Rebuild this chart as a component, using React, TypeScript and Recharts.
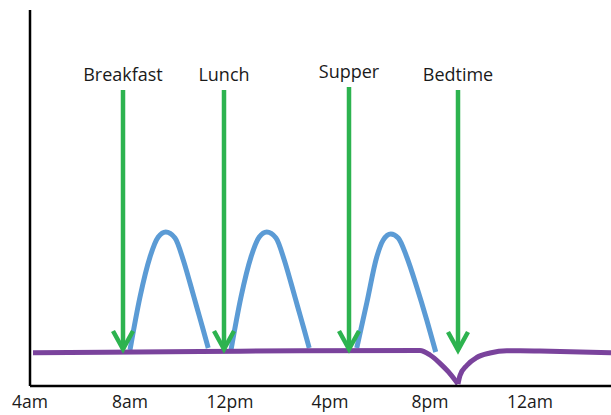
import React from 'react';
import { ComposedChart, Line, XAxis, YAxis } from 'recharts';

// x in hours since midnight (4 = 4am, 24 = 12am), y in arbitrary insulin level
const tickHours = [4, 8, 12, 16, 20, 24];
const tickLabels = ['4am', '8am', '12pm', '4pm', '8pm', '12am'];

// rapid acting doses (blue bumps)
const breakfastHours = [8.0, 8.4, 8.8, 9.13, 9.43, 9.8, 10.13, 10.4, 10.67, 10.93, 11.13];
const breakfastLevels = [36, 89, 129, 149, 154, 148, 126, 103, 79, 56, 38];
const lunchHours = [12.04, 12.44, 12.84, 13.17, 13.47, 13.84, 14.17, 14.44, 14.71, 14.97, 15.17];
const lunchLevels = [36, 89, 129, 149, 154, 148, 126, 103, 79, 56, 38];
const supperHours = [17.07, 17.47, 17.87, 18.13, 18.43, 18.73, 19.07, 19.47, 19.87, 20.23];
const supperLevels = [38, 83, 129, 146, 152, 148, 129, 99, 66, 34];

// long acting background (purple), split at the bedtime dip
const basalBeforeHours = [4.12, 10.8, 14.8, 19.6, 20.0, 20.4, 20.73, 21.0, 21.12];
const basalBeforeLevels = [33.3, 34.5, 35.3, 35.5, 31, 22.7, 14.3, 6, 2];
const basalAfterHours = [21.12, 21.2, 21.47, 21.87, 22.4, 23.07, 23.6, 24.4, 27.24];
const basalAfterLevels = [2, 10.5, 20.5, 28.5, 33, 35.3, 35.3, 35, 33.3];

// injection arrows
const arrowLabels = ['Breakfast', 'Lunch', 'Supper', 'Bedtime'];
const arrowHours = [7.72, 11.76, 16.76, 21.12];
const arrowTops = [296, 296, 299, 296];
const arrowTips = [37, 37, 37, 36];

const title = 'Correction - correct before meals and at bedtime';

const BLUE = '#5B9BD5';
const PURPLE = '#7A439C';
const GREEN = '#2DB34F';
const FONT = '"Open Sans", sans-serif';

const toPoints = (hours: number[], levels: number[]) =>
  hours.map((h, i) => ({ h, v: levels[i] }));

const arrows = arrowLabels.map((label, i) => ({
  label,
  data: [
    { h: arrowHours[i], v: arrowTops[i], label },
    { h: arrowHours[i], v: arrowTips[i], label },
  ],
}));

const ArrowEnd = (props: any) => {
  const { cx, cy, index, payload } = props;
  if (cx == null || cy == null) return <g key={`e-${index}`} />;
  if (index === 0) {
    return (
      <text
        key={`t-${payload.label}`}
        x={cx}
        y={cy - 9}
        textAnchor="middle"
        fontFamily={FONT}
        fontSize={18}
        fill="#1a1a1a"
      >
        {payload.label}
      </text>
    );
  }
  return (
    <polyline
      key={`h-${payload.label}`}
      points={`${cx - 10},${cy - 18} ${cx},${cy} ${cx + 10},${cy - 18}`}
      fill="none"
      stroke={GREEN}
      strokeWidth={4.5}
      strokeLinejoin="miter"
    />
  );
};

export default function App() {
  return (
    <div
      style={{
        position: 'absolute',
        left: 0,
        top: 0,
        width: 611,
        height: 415,
        overflow: 'hidden',
        background: '#fff',
      }}
    >
      {/* title is cropped off the top in the original */}
      <div
        style={{
          position: 'absolute',
          left: 40,
          top: -26,
          whiteSpace: 'nowrap',
          fontFamily: FONT,
          fontWeight: 700,
          fontSize: 21,
          color: '#6CD48C',
        }}
      >
        {title}
      </div>
      <ComposedChart width={611} height={415} margin={{ top: 10, right: 0, bottom: 0, left: 0 }}>
        <XAxis
          type="number"
          dataKey="h"
          domain={[4, 27.24]}
          ticks={tickHours}
          tickFormatter={(h: number) => tickLabels[tickHours.indexOf(h)]}
          allowDataOverflow
          height={29}
          tickLine={false}
          tickMargin={4}
          axisLine={{ stroke: '#000', strokeWidth: 2.5 }}
          tick={{ fill: '#1a1a1a', fontSize: 17.5, fontFamily: FONT }}
          interval={0}
        />
        <YAxis
          type="number"
          domain={[0, 376]}
          width={30}
          tick={false}
          tickLine={false}
          axisLine={{ stroke: '#000', strokeWidth: 2.5 }}
          allowDataOverflow
        />
        <Line data={toPoints(breakfastHours, breakfastLevels)} dataKey="v" type="monotone" stroke={BLUE} strokeWidth={5} dot={false} activeDot={false} isAnimationActive={false} />
        <Line data={toPoints(lunchHours, lunchLevels)} dataKey="v" type="monotone" stroke={BLUE} strokeWidth={5} dot={false} activeDot={false} isAnimationActive={false} />
        <Line data={toPoints(supperHours, supperLevels)} dataKey="v" type="monotone" stroke={BLUE} strokeWidth={5} dot={false} activeDot={false} isAnimationActive={false} />
        <Line data={toPoints(basalBeforeHours, basalBeforeLevels)} dataKey="v" type="monotone" stroke={PURPLE} strokeWidth={5} dot={false} activeDot={false} isAnimationActive={false} />
        <Line data={toPoints(basalAfterHours, basalAfterLevels)} dataKey="v" type="monotone" stroke={PURPLE} strokeWidth={5} dot={false} activeDot={false} isAnimationActive={false} />
        {arrows.map((a) => (
          <Line
            key={a.label}
            data={a.data}
            dataKey="v"
            type="linear"
            stroke={GREEN}
            strokeWidth={4.5}
            dot={ArrowEnd}
            activeDot={false}
            isAnimationActive={false}
          />
        ))}
      </ComposedChart>
    </div>
  );
}
